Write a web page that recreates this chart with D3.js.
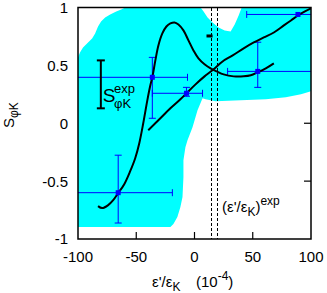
<!DOCTYPE html>
<html><head><meta charset="utf-8">
<script src="https://cdn.jsdelivr.net/npm/d3@7/dist/d3.min.js"></script>
<style>body{margin:0;background:#fff}svg{display:block}text{font-family:"Liberation Sans",Arial,Helvetica,sans-serif;fill:#000}</style>
</head><body><svg id="c" width="327" height="293"></svg>
<script>
const xTicks = [-100, -50, 0, 50, 100];
const yTicks = [-1, -0.5, 0, 0.5, 1];
const yTickLabels = ["-1", "-0.5", "0", "0.5", "1"];
// allowed region (cyan)
const regionX = [-100,-98.3,-95.7,-93.1,-90.5,-87.9,-85.3,-82.8,-80.2,-76.7,-72.4,-67.2,-62.9,-59.5,5.2,7.8,11.2,15.5,20.7,25.9,31.0,34.5,37.9,40.5,100,100,91.4,78.4,61.2,39.7,18.1,9.5,6.9,2.6,-1.7,-6.0,-7.8,-9.5,-9.5,-10.3,-12.1,-14.7,-18.1,-20.7,-100];
const regionY = [0.569,0.612,0.655,0.681,0.707,0.733,0.776,0.836,0.879,0.914,0.940,0.966,0.983,1,1,0.966,0.914,0.871,0.828,0.802,0.793,0.853,0.931,1,1,0.276,0.250,0.224,0.207,0.198,0.190,0.207,0.216,0.112,-0.034,-0.147,-0.207,-0.319,-0.466,-0.638,-0.724,-0.810,-0.871,-0.897,-0.897];
// curve A
const curveAX = [-82.8,-79.3,-74.1,-69.8,-65.5,-60.3,-55.2,-50.9,-47.4,-44.0,-40.5,-37.9,-36.2,-33.6,-31.0,-27.6,-24.1,-20.7,-17.2,-13.8,-9.5,-5.2,-0.9,3.4,8.6,13.8,19.0,25.0,33.6,42.2,48.3,54.3,61.2,68.1];
const curveAY = [-0.716,-0.733,-0.707,-0.664,-0.603,-0.526,-0.414,-0.302,-0.172,0.0,0.198,0.328,0.397,0.543,0.672,0.776,0.836,0.862,0.871,0.853,0.802,0.716,0.629,0.560,0.509,0.474,0.448,0.422,0.405,0.405,0.414,0.440,0.474,0.517];
// curve B
const curveBX = [-39.7,-29.3,-20.7,-12.1,-6.9,0.9,8.6,16.4,24.1,32.8,42.2,50.9,59.5,68.1,76.7,82.8,88.8,94.8,100];
const curveBY = [-0.060,0.043,0.129,0.207,0.259,0.336,0.405,0.466,0.534,0.586,0.647,0.698,0.741,0.784,0.845,0.888,0.931,0.966,0.992];
// data points with errors
const ptX   = [-65.5, -36.2, -6.9, 54.3, 88.8];
const ptY   = [-0.60, 0.397, 0.259, 0.448, 0.94];
const ptXlo = [-112, -112, -36.2, 28.4, 44.8];
const ptXhi = [-19.0, -6.0, 6.9, 112, 112];
const ptYlo = [-0.862, 0.043, 0.233, 0.31, 0.94];
const ptYhi = [-0.276, 0.569, 0.31, 0.70, 0.94];
// black measurement marker
const blackX = [10.3, 15.5];
const blackY = [0.741, 0.767];
// experimental eps'/eps band
const epsExp = [14.2, 19.4];
// S exp legend bar
const legX = -80.4, legY = [0.129, 0.543];

const svg = d3.select("#c");
const L = 78, T = 7.5, R = 311, B = 239;
const x = d3.scaleLinear().domain([-100, 100]).range([L, R]);
const y = d3.scaleLinear().domain([-1, 1]).range([B, T]);
const blue = "#0000ff";

svg.append("defs").append("clipPath").attr("id","clip").append("rect")
  .attr("x", L).attr("y", T).attr("width", R-L).attr("height", B-T);

// ticks (inside, all sides)
const tl = 7;
const tg = svg.append("g").attr("stroke","#000").attr("stroke-width",1.2);
xTicks.slice(1,-1).forEach(v=>{
  tg.append("line").attr("x1",x(v)).attr("x2",x(v)).attr("y1",B).attr("y2",B-tl);
  tg.append("line").attr("x1",x(v)).attr("x2",x(v)).attr("y1",T).attr("y2",T+tl);
});
yTicks.slice(1,-1).forEach(v=>{
  tg.append("line").attr("y1",y(v)).attr("y2",y(v)).attr("x1",L).attr("x2",L+tl);
  tg.append("line").attr("y1",y(v)).attr("y2",y(v)).attr("x1",R).attr("x2",R-tl);
});

// cyan region
const reg = regionX.map((v,i)=>[x(v), y(regionY[i])]);
svg.append("path").attr("d", "M" + reg.join("L") + "Z").attr("fill","#00ffff").attr("stroke","none");

const plot = svg.append("g").attr("clip-path","url(#clip)");

// dashed lines
epsExp.forEach(v=>{
  plot.append("line").attr("x1",Math.round(x(v))+0.5).attr("x2",Math.round(x(v))+0.5).attr("y1",T).attr("y2",B)
    .attr("stroke","#000").attr("stroke-width",1.2).attr("stroke-dasharray","3,2").attr("shape-rendering","crispEdges");
});

// error bars
const cap = 3.5;
ptX.forEach((v,i)=>{
  const g = plot.append("g").attr("stroke",blue).attr("stroke-width",1);
  g.append("line").attr("x1",x(ptXlo[i])).attr("x2",x(ptXhi[i])).attr("y1",y(ptY[i])).attr("y2",y(ptY[i]));
  [ptXlo[i], ptXhi[i]].forEach(e=>g.append("line").attr("x1",x(e)).attr("x2",x(e)).attr("y1",y(ptY[i])-cap).attr("y2",y(ptY[i])+cap));
  if (ptYhi[i] !== ptYlo[i]) {
    g.append("line").attr("x1",x(v)).attr("x2",x(v)).attr("y1",y(ptYlo[i])).attr("y2",y(ptYhi[i]));
    [ptYlo[i], ptYhi[i]].forEach(e=>g.append("line").attr("x1",x(v)-cap).attr("x2",x(v)+cap).attr("y1",y(e)).attr("y2",y(e)));
  }
});

// curves
const line = d3.line().x(d=>x(d[0])).y(d=>y(d[1])).curve(d3.curveCatmullRom);
plot.append("path").attr("d", line(curveAX.map((v,i)=>[v,curveAY[i]])))
  .attr("fill","none").attr("stroke","#000").attr("stroke-width",2);
plot.append("path").attr("d", line(curveBX.map((v,i)=>[v,curveBY[i]])))
  .attr("fill","none").attr("stroke","#000").attr("stroke-width",2);

// points
ptX.forEach((v,i)=>{
  plot.append("rect").attr("x",x(v)-2.5).attr("y",y(ptY[i])-2.5).attr("width",5).attr("height",5).attr("fill",blue);
});

// black marker
plot.append("rect").attr("x",x(blackX[0])).attr("y",y(blackY[1]))
  .attr("width",x(blackX[1])-x(blackX[0])).attr("height",y(blackY[0])-y(blackY[1])).attr("fill","#000");

// legend error bar
const lg = svg.append("g").attr("stroke","#000").attr("stroke-width",2);
lg.append("line").attr("x1",x(legX)).attr("x2",x(legX)).attr("y1",y(legY[0])).attr("y2",y(legY[1]));
legY.forEach(e=>lg.append("line").attr("x1",x(legX)-4).attr("x2",x(legX)+4).attr("y1",y(e)).attr("y2",y(e)));

const t1 = svg.append("text").attr("x", x(legX)+2).attr("y", 102).attr("font-size",19);
t1.append("tspan").text("S");
svg.append("text").attr("x", 114).attr("y", 93).attr("font-size",13).text("exp");
svg.append("text").attr("x", 114).attr("y", 108).attr("font-size",13).text("φK");

const t2 = svg.append("text").attr("x", 222).attr("y", 212).attr("font-size",15);
t2.append("tspan").text("(ε'/ε");
t2.append("tspan").attr("font-size",12).attr("dy",4).text("K");
t2.append("tspan").attr("dy",-4).text(")");
t2.append("tspan").attr("font-size",12).attr("dy",-7).text("exp");

// frame
svg.append("rect").attr("x",L).attr("y",T).attr("width",R-L).attr("height",B-T)
  .attr("fill","none").attr("stroke","#000").attr("stroke-width",1.5);

// tick labels
xTicks.forEach(v=>{
  svg.append("text").attr("x",x(v)).attr("y",262).attr("text-anchor","middle").attr("font-size",15).text(v);
});
yTicks.forEach((v,i)=>{
  svg.append("text").attr("x",68).attr("y",y(v)).attr("dy","0.36em").attr("text-anchor","end").attr("font-size",15).text(yTickLabels[i]);
});

// axis labels
const xl = svg.append("text").attr("x",152).attr("y",287).attr("font-size",15);
xl.append("tspan").text("ε'/ε");
xl.append("tspan").attr("font-size",12).attr("dy",4).text("K");
xl.append("tspan").attr("x",196).attr("dy",-4).text("(10");
xl.append("tspan").attr("font-size",12).attr("dy",-7).text("-4");
xl.append("tspan").attr("dy",7).text(")");

const yl = svg.append("text").attr("transform","translate(14,128) rotate(-90)").attr("font-size",15);
yl.append("tspan").text("S");
yl.append("tspan").attr("font-size",12).attr("dy",4).text("φK");
</script></body></html>
